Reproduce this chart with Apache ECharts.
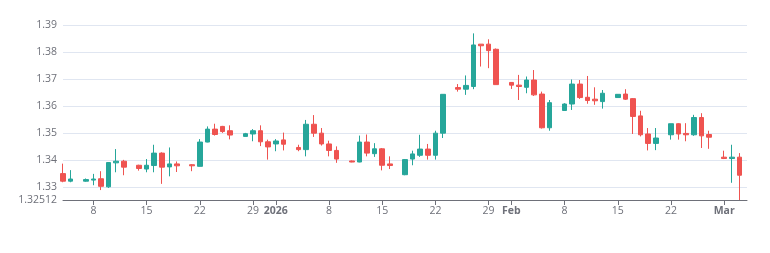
<!DOCTYPE html>
<html>
<head>
  <meta charset="utf-8">
  <title>Candles</title>
  <script src="https://cdn.jsdelivr.net/npm/echarts@6/dist/echarts.min.js"></script>
  <style type="text/css">
    html, body {
      margin: 0;
      padding: 0;
      background: #fff;
    }

    #chart {
      width: 770px;
      height: 253px;
    }
  </style>
</head>
<body>
<div id="chart"></div>
<script>
  // daily candles, Saturdays missing
  var dates = [
    '2025-12-04', '2025-12-05', '2025-12-07', '2025-12-08', '2025-12-09', '2025-12-10', '2025-12-11', '2025-12-12',
    '2025-12-14', '2025-12-15', '2025-12-16', '2025-12-17', '2025-12-18', '2025-12-19',
    '2025-12-21', '2025-12-22', '2025-12-23', '2025-12-24', '2025-12-25', '2025-12-26',
    '2025-12-28', '2025-12-29', '2025-12-30', '2025-12-31', '2026-01-01', '2026-01-02',
    '2026-01-04', '2026-01-05', '2026-01-06', '2026-01-07', '2026-01-08', '2026-01-09',
    '2026-01-11', '2026-01-12', '2026-01-13', '2026-01-14', '2026-01-15', '2026-01-16',
    '2026-01-18', '2026-01-19', '2026-01-20', '2026-01-21', '2026-01-22', '2026-01-23',
    '2026-01-25', '2026-01-26', '2026-01-27', '2026-01-28', '2026-01-29', '2026-01-30',
    '2026-02-01', '2026-02-02', '2026-02-03', '2026-02-04', '2026-02-05', '2026-02-06',
    '2026-02-08', '2026-02-09', '2026-02-10', '2026-02-11', '2026-02-12', '2026-02-13',
    '2026-02-15', '2026-02-16', '2026-02-17', '2026-02-18', '2026-02-19', '2026-02-20',
    '2026-02-22', '2026-02-23', '2026-02-24', '2026-02-25', '2026-02-26', '2026-02-27',
    '2026-03-01', '2026-03-02', '2026-03-03'
  ];
  var opens = [
    1.3349, 1.3321, 1.3321, 1.3325, 1.3330, 1.3300, 1.3389, 1.3395,
    1.3380, 1.3366, 1.3379, 1.3425, 1.3374, 1.3385,
    1.3382, 1.3376, 1.3466, 1.3514, 1.3524, 1.3508,
    1.3487, 1.3496, 1.3508, 1.3467, 1.3459, 1.3474,
    1.3446, 1.3438, 1.3532, 1.3499, 1.3459, 1.3435,
    1.3396, 1.3392, 1.3466, 1.3423, 1.3441, 1.3385,
    1.3345, 1.3403, 1.3417, 1.3440, 1.3417, 1.3499,
    1.3668, 1.3662, 1.3672, 1.3829, 1.3829, 1.3810,
    1.3687, 1.3677, 1.3669, 1.3696, 1.3644, 1.3519,
    1.3583, 1.3607, 1.3681, 1.3632, 1.3625, 1.3616,
    1.3631, 1.3644, 1.3627, 1.3563, 1.3496, 1.3461,
    1.3493, 1.3534, 1.3498, 1.3493, 1.3557, 1.3494,
    1.3410, 1.3405, 1.3410
  ];
  var closes = [
    1.3321, 1.3329, 1.3327, 1.3329, 1.3302, 1.3390, 1.3395, 1.3373,
    1.3368, 1.3380, 1.3425, 1.3373, 1.3385, 1.3378,
    1.3378, 1.3466, 1.3514, 1.3494, 1.3505, 1.3492,
    1.3497, 1.3508, 1.3467, 1.3448, 1.3470, 1.3458,
    1.3438, 1.3532, 1.3499, 1.3459, 1.3435, 1.3403,
    1.3392, 1.3466, 1.3425, 1.3441, 1.3380, 1.3379,
    1.3401, 1.3422, 1.3440, 1.3417, 1.3499, 1.3643,
    1.3662, 1.3676, 1.3826, 1.3823, 1.3805, 1.3679,
    1.3677, 1.3672, 1.3696, 1.3641, 1.3519, 1.3612,
    1.3607, 1.3681, 1.3631, 1.3620, 1.3619, 1.3647,
    1.3643, 1.3625, 1.3561, 1.3493, 1.3461, 1.3481,
    1.3534, 1.3496, 1.3493, 1.3557, 1.3489, 1.3484,
    1.3405, 1.3410, 1.3343
  ];
  var lows = [
    1.3317, 1.3317, 1.3319, 1.3306, 1.3288, 1.3296, 1.3354, 1.3343,
    1.3360, 1.3354, 1.3354, 1.3311, 1.3339, 1.3355,
    1.3358, 1.3375, 1.3465, 1.3490, 1.3500, 1.3476,
    1.3487, 1.3469, 1.3451, 1.3401, 1.3432, 1.3435,
    1.3432, 1.3413, 1.3485, 1.3453, 1.3413, 1.3389,
    1.3391, 1.3391, 1.3413, 1.3411, 1.3361, 1.3366,
    1.3343, 1.3380, 1.3411, 1.3401, 1.3401, 1.3481,
    1.3653, 1.3641, 1.3662, 1.3746, 1.3740, 1.3679,
    1.3663, 1.3622, 1.3647, 1.3637, 1.3516, 1.3508,
    1.3583, 1.3585, 1.3626, 1.3608, 1.3604, 1.3590,
    1.3630, 1.3622, 1.3496, 1.3487, 1.3435, 1.3436,
    1.3475, 1.3475, 1.3469, 1.3489, 1.3444, 1.3441,
    1.3403, 1.3315, 1.32512
  ];
  var highs = [
    1.3386, 1.3362, 1.3331, 1.3348, 1.3358, 1.3392, 1.3440, 1.3400,
    1.3382, 1.3403, 1.3456, 1.3428, 1.3446, 1.3394,
    1.3384, 1.3477, 1.3524, 1.3534, 1.3526, 1.3528,
    1.3500, 1.3514, 1.3528, 1.3475, 1.3477, 1.3501,
    1.3456, 1.3548, 1.3566, 1.3518, 1.3471, 1.3450,
    1.3398, 1.3490, 1.3494, 1.3462, 1.3444, 1.3413,
    1.3403, 1.3434, 1.3493, 1.3459, 1.3508, 1.3643,
    1.3681, 1.3713, 1.3869, 1.3829, 1.3847, 1.3813,
    1.3687, 1.3715, 1.3709, 1.3733, 1.3653, 1.3622,
    1.3610, 1.3698, 1.3696, 1.3711, 1.3669, 1.3659,
    1.3644, 1.3662, 1.3629, 1.3582, 1.3518, 1.3518,
    1.3534, 1.3536, 1.3536, 1.3567, 1.3573, 1.3508,
    1.3434, 1.3456, 1.3425
  ];
  var axisStart = '2025-12-04';
  var axisEnd = '2026-03-04';
  var yMax = 1.39;

  var upColor = '#26a69a';
  var downColor = '#ef5350';
  var labelFont = 'Open Sans';

  // echarts candlestick wants [open, close, low, high]
  var candles = [];
  for (var i = 0; i < dates.length; i++) {
    candles.push([dates[i], opens[i], closes[i], lows[i], highs[i]]);
  }

  var chart = echarts.init(document.getElementById('chart'));
  chart.setOption({
    animation: false,
    grid: {
      left: 63,
      right: 23,
      top: 25,
      bottom: 53
    },
    xAxis: {
      type: 'time',
      min: axisStart,
      max: axisEnd,
      splitNumber: 9,
      axisLine: {lineStyle: {color: '#6E7079'}},
      axisTick: {show: true},
      splitLine: {show: false},
      axisLabel: {
        color: '#6E7079',
        fontFamily: labelFont,
        fontSize: 10.5,
        margin: 6
      }
    },
    yAxis: {
      type: 'value',
      scale: true,
      min: 'dataMin',
      max: yMax,
      axisLine: {show: false},
      axisTick: {show: false},
      splitLine: {lineStyle: {color: '#E0E6F1'}},
      axisLabel: {
        color: '#6E7079',
        fontFamily: labelFont,
        fontSize: 10.5,
        margin: 6
      }
    },
    series: [{
      type: 'candlestick',
      barWidth: 5,
      encode: {x: 0, y: [1, 2, 3, 4]},
      itemStyle: {
        color: upColor,
        color0: downColor,
        borderColor: upColor,
        borderColor0: downColor,
        borderWidth: 1
      },
      data: candles
    }]
  });
</script>
</body>
</html>
